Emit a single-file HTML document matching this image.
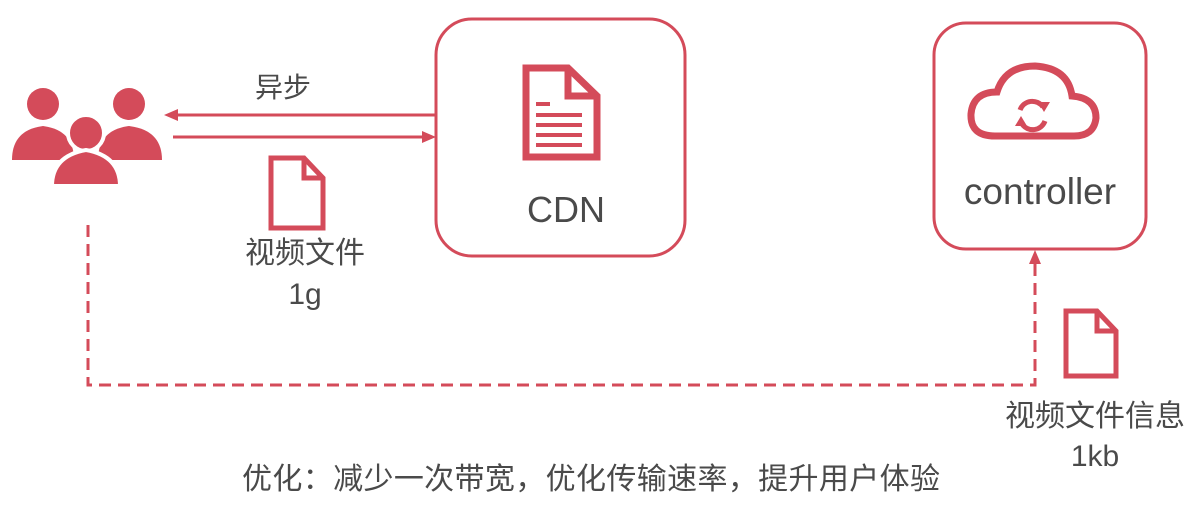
<!DOCTYPE html>
<html><head><meta charset="utf-8"><style>
html,body{margin:0;padding:0;background:#fff;width:1192px;height:505px;overflow:hidden}
svg text{font-family:"Liberation Sans","Noto Sans CJK SC",sans-serif;fill:#4a4a4a}
</style></head><body>
<svg width="1192" height="505" xmlns="http://www.w3.org/2000/svg">
<g fill="#d44b5a">
 <circle cx="43" cy="104" r="16"/><path d="M12 160 Q12 130 43 126 Q74 130 74 160Z"/>
 <circle cx="129" cy="104" r="16"/><path d="M98 160 Q98 130 129 126 Q162 130 162 160Z"/>
 <circle cx="86" cy="133" r="18" stroke="#fff" stroke-width="4"/><path d="M52 186 Q52 156 86 150 Q120 156 120 186Z" stroke="#fff" stroke-width="4"/>
</g>
<g stroke="#d44b5a" fill="none">
 <rect x="436" y="19" width="249" height="237" rx="36" stroke-width="3"/>
 <rect x="934" y="23" width="212" height="226" rx="32" stroke-width="3"/>
 <line x1="172" y1="115" x2="436" y2="115" stroke-width="3"/>
 <line x1="173" y1="137" x2="426" y2="137" stroke-width="3"/>
 <path d="M88 225 V385 H1035 V262" stroke-width="3" stroke-dasharray="12 7"/>
 <path d="M526 68 H568 L597 96 V157 H526Z M568 68 V96 H597" stroke-width="7" stroke-linejoin="miter"/>
 <path d="M271 158 H304 L323 178 V228 H271Z M304 158 V178 H323" stroke-width="5"/>
 <path d="M1066 311 H1097 L1116 331 V376 H1066Z M1097 311 V331 H1116" stroke-width="5"/>
 <path d="M995 136 Q970 136 971 114 Q973 92 997 92 Q1005 66 1035 66 Q1068 68 1072 96 Q1096 98 1096 118 Q1094 136 1074 136Z" stroke-width="7"/>
 <path d="M1020 110 A13 13 0 0 1 1043 107 M1045 121 A13 13 0 0 1 1022 124" stroke-width="5"/>
</g>
<g fill="#d44b5a">
 <polygon points="164,115 178,109 178,121"/>
 <polygon points="436,137 422,131 422,143"/>
 <polygon points="1035,250 1029,264 1041,264"/>
 <rect x="536" y="102" width="14" height="4"/>
 <rect x="536" y="113" width="46" height="4"/><rect x="536" y="123" width="46" height="4"/><rect x="536" y="133" width="46" height="4"/><rect x="536" y="143" width="46" height="4"/>
 <polygon points="1038,102 1050,102 1044,112"/><polygon points="1027,126 1015,126 1021,116"/>
</g>
<text x="255" y="97" font-size="28">异步</text>
<text x="305" y="263" font-size="30" text-anchor="middle">视频文件</text>
<text x="305" y="304" font-size="30" text-anchor="middle">1g</text>
<text x="527" y="222" font-size="36">CDN</text>
<text x="1040" y="204" font-size="37" text-anchor="middle">controller</text>
<text x="1095" y="426" font-size="30" text-anchor="middle">视频文件信息</text>
<text x="1095" y="466" font-size="30" text-anchor="middle">1kb</text>
<text x="242" y="489" font-size="30" textLength="698">优化：减少一次带宽，优化传输速率，提升用户体验</text>
</svg>
</body></html>
